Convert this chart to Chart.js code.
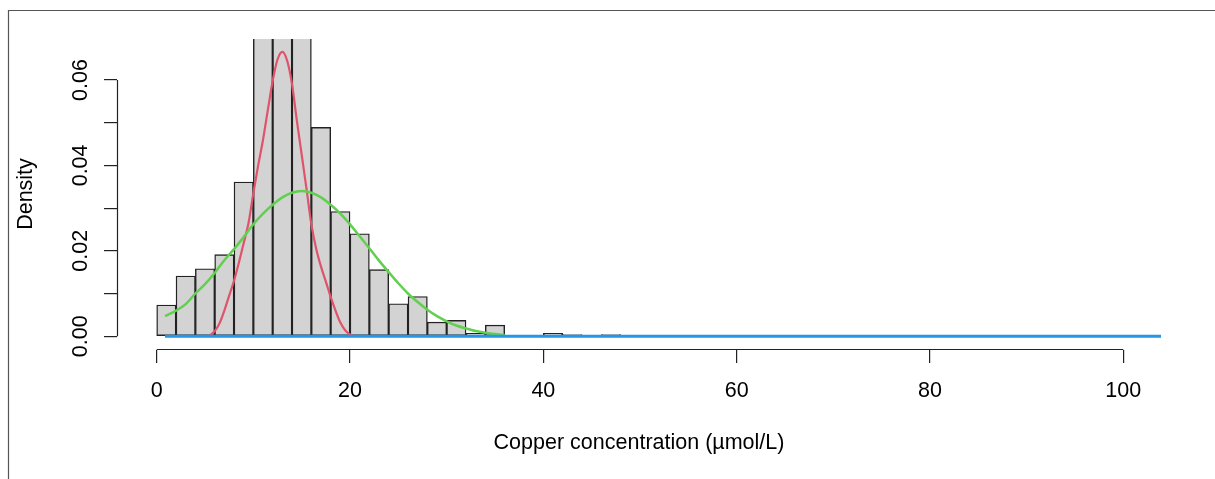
<!DOCTYPE html>
<html>
<head>
<meta charset="utf-8">
<title>Copper concentration density</title>
<script src="https://cdn.jsdelivr.net/npm/chart.js@4.4.1/dist/chart.umd.min.js"></script>
<style>
  html, body { margin: 0; padding: 0; background: #fff; }
  canvas { display: block; }
</style>
</head>
<body>
<canvas id="chart" width="1215" height="479"></canvas>
<script>
Chart.defaults.font.family = "'Liberation Sans', Arial, sans-serif";
Chart.defaults.color = "#000";

// histogram, bins of width 2
var binMids = [1, 3, 5, 7, 9, 11, 13, 15, 17, 19, 21, 23, 25, 27, 29, 31, 33, 35, 37, 39, 41, 43, 45, 47];
var binDensity = [0.0073, 0.0141, 0.0158, 0.0191, 0.0361, 0.082, 0.094, 0.085, 0.0489, 0.0292, 0.0240, 0.0156,
  0.0076, 0.0093, 0.0033, 0.0037, 0.0007, 0.0026, 0, 0, 0.0007, 0.0004, 0, 0.0004];

// red curve (narrow)
var redX = [5.5, 6, 6.5, 7, 7.5, 8, 8.5, 9, 9.5, 10, 10.5, 11, 11.5, 12, 12.5, 13, 13.5, 14, 14.5, 15,
  15.5, 16, 16.5, 17, 17.5, 18, 18.5, 19, 19.5, 20, 20.5];
var redY = [0.0002, 0.0012, 0.0030, 0.0060, 0.0095, 0.0130, 0.0172, 0.0218, 0.0265, 0.0335, 0.0400, 0.0460,
  0.0530, 0.0598, 0.0648, 0.0666, 0.0645, 0.0590, 0.0505, 0.0425, 0.0345, 0.0262, 0.0205, 0.0163, 0.0128,
  0.0092, 0.0060, 0.0032, 0.0014, 0.0004, 0.0000];

// green curve (wide)
var greenX = [0.86, 2, 3, 4, 5, 6, 7, 8, 9, 10, 11, 12, 13, 14, 15, 16, 17, 18, 19, 20, 21, 22, 23, 24, 25,
  26, 27, 28, 29, 30, 31, 32, 33, 34, 35, 36];
var greenY = [0.0047, 0.0060, 0.0075, 0.0100, 0.0122, 0.0148, 0.0178, 0.0204, 0.0232, 0.0262, 0.0287, 0.0308,
  0.0325, 0.0336, 0.0340, 0.0336, 0.0325, 0.0308, 0.0287, 0.0262, 0.0234, 0.0206, 0.0177, 0.0150, 0.0124,
  0.0100, 0.0080, 0.0062, 0.0047, 0.0035, 0.0025, 0.0018, 0.0012, 0.0008, 0.0005, 0.0003];

// blue curve (flat)
var blueX = [0.86, 104.1];
var blueY = [0, 0];

var xTicks = [0, 20, 40, 60, 80, 100];
var yTicks = [0, 0.01, 0.02, 0.03, 0.04, 0.05, 0.06];
var yTickLabels = ["0.00", "", "0.02", "", "0.04", "", "0.06"];

function pts(xs, ys) {
  return xs.map(function (x, i) { return { x: x, y: ys[i] }; });
}

var axisColor = "#222";
var labelFont = "21.5px 'Liberation Sans', Arial, sans-serif";

// R style axes: lines only between first and last tick, rotated y labels
var rAxes = {
  id: "rAxes",
  beforeDraw: function (chart) {
    var ctx = chart.ctx;
    ctx.save();
    ctx.strokeStyle = "#555";
    ctx.lineWidth = 1.2;
    ctx.beginPath();
    ctx.moveTo(8.5, 479);
    ctx.lineTo(8.5, 10.5);
    ctx.lineTo(1215, 10.5);
    ctx.stroke();
    ctx.restore();
  },
  afterDraw: function (chart) {
    var ctx = chart.ctx;
    var x = chart.scales.x, y = chart.scales.y;
    var area = chart.chartArea;
    ctx.save();
    ctx.strokeStyle = axisColor;
    ctx.lineWidth = 1.2;
    ctx.beginPath();
    ctx.moveTo(area.left + 0.5, y.getPixelForValue(yTicks[0]));
    ctx.lineTo(area.left + 0.5, y.getPixelForValue(yTicks[yTicks.length - 1]));
    ctx.moveTo(x.getPixelForValue(xTicks[0]), area.bottom - 0.5);
    ctx.lineTo(x.getPixelForValue(xTicks[xTicks.length - 1]), area.bottom - 0.5);
    ctx.stroke();

    ctx.fillStyle = "#000";
    ctx.font = labelFont;
    ctx.textAlign = "center";
    ctx.textBaseline = "alphabetic";
    yTicks.forEach(function (v, i) {
      if (!yTickLabels[i]) return;
      ctx.save();
      ctx.translate(87, y.getPixelForValue(v));
      ctx.rotate(-Math.PI / 2);
      ctx.fillText(yTickLabels[i], 0, 0);
      ctx.restore();
    });
    ctx.save();
    ctx.translate(32, (area.top + area.bottom) / 2 - 0.5);
    ctx.rotate(-Math.PI / 2);
    ctx.fillText("Density", 0, 0);
    ctx.restore();
    ctx.restore();
  }
};

var chart = new Chart("chart", {
  type: "bar",
  data: {
    datasets: [
      {
        type: "line",
        data: pts(blueX, blueY),
        borderColor: "#2297E6",
        borderWidth: 3,
        pointRadius: 0,
        order: 1
      },
      {
        type: "line",
        data: pts(greenX, greenY),
        borderColor: "#61D04F",
        borderWidth: 2.5,
        pointRadius: 0,
        cubicInterpolationMode: "monotone",
        order: 2
      },
      {
        type: "line",
        data: pts(redX, redY),
        borderColor: "#DF536B",
        borderWidth: 2.2,
        pointRadius: 0,
        cubicInterpolationMode: "monotone",
        order: 3
      },
      {
        type: "bar",
        data: pts(binMids, binDensity),
        backgroundColor: "#D3D3D3",
        borderColor: "#222",
        borderWidth: 1.4,
        borderSkipped: false,
        barPercentage: 1,
        categoryPercentage: 1,
        clip: 0,
        order: 4
      }
    ]
  },
  options: {
    responsive: false,
    animation: false,
    events: [],
    layout: { padding: { left: 0, top: 39, right: 54, bottom: 0 } },
    plugins: {
      legend: { display: false },
      tooltip: { enabled: false }
    },
    scales: {
      x: {
        type: "linear",
        min: -4.107,
        max: 103.9,
        offset: false,
        border: { display: false },
        grid: { display: true, offset: false, drawOnChartArea: false, drawTicks: true, tickLength: 13, color: axisColor, lineWidth: 1.2 },
        afterBuildTicks: function (scale) {
          scale.ticks = xTicks.map(function (v) { return { value: v }; });
        },
        afterFit: function (scale) { scale.height = 129; },
        ticks: {
          font: { size: 21.5 },
          color: "#000",
          padding: 15,
          maxRotation: 0,
          callback: function (v) { return String(v); }
        },
        title: {
          display: true,
          text: "Copper concentration (µmol/L)",
          font: { size: 21.5 },
          color: "#000",
          padding: { top: 0, bottom: 23 }
        }
      },
      y: {
        type: "linear",
        min: -0.00323,
        max: 0.0696,
        border: { display: false },
        grid: { display: true, drawOnChartArea: false, drawTicks: true, tickLength: 13, color: axisColor, lineWidth: 1.2 },
        afterBuildTicks: function (scale) {
          scale.ticks = yTicks.map(function (v) { return { value: v }; });
        },
        afterFit: function (scale) { scale.width = 117; },
        ticks: { display: false }
      }
    }
  },
  plugins: [rAxes]
});
</script>
</body>
</html>
